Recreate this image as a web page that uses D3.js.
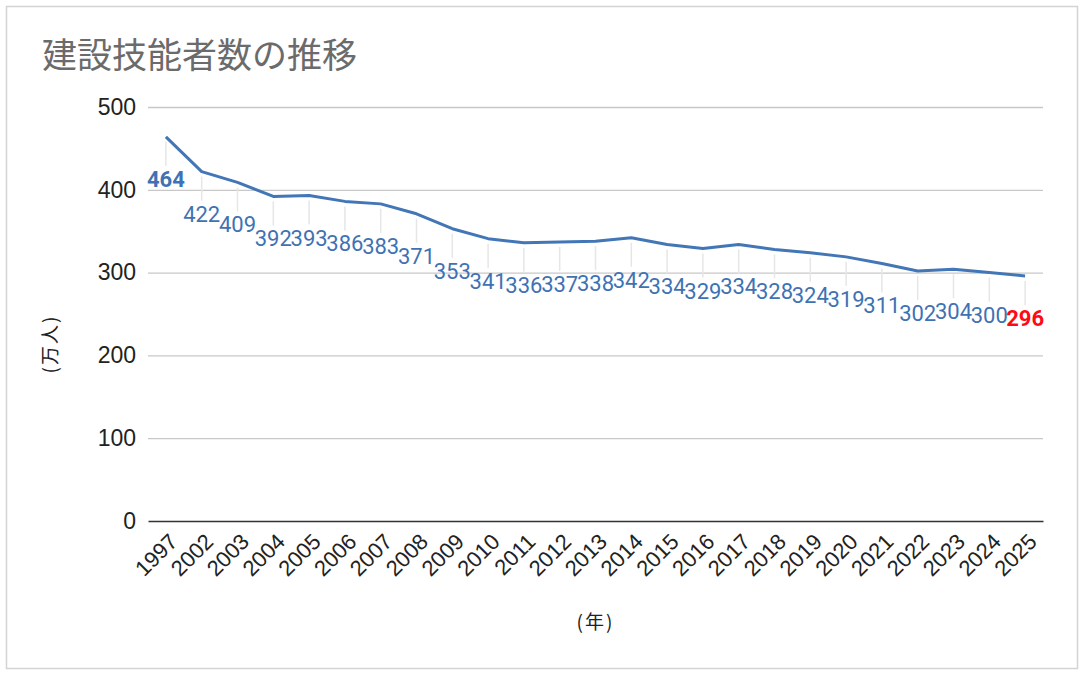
<!DOCTYPE html>
<html>
<head>
	<meta charset="UTF-8">
	<script src="https://d3js.org/d3.v7.min.js"></script>
	<title>建設技能者数の推移</title>
	<style>
		html, body { margin: 0; padding: 0; background: #fff; }
	</style>
</head>
<body>
	<svg></svg>
	<script type="text/javascript">
		const width = 1089;
		const height = 677;
		const margin = ({top: 107, right: 46, bottom: 156, left: 148});

		const years = ["1997", "2002", "2003", "2004", "2005", "2006", "2007", "2008", "2009", "2010",
			"2011", "2012", "2013", "2014", "2015", "2016", "2017", "2018", "2019", "2020",
			"2021", "2022", "2023", "2024", "2025"];
		const workers = [464, 422, 409, 392, 393, 386, 383, 371, 353, 341,
			336, 337, 338, 342, 334, 329, 334, 328, 324, 319,
			311, 302, 304, 300, 296];
		const yTicks = [0, 100, 200, 300, 400, 500];

		const data = years.map((y, i) => ({year: y, value: workers[i]}));

		const x = d3.scaleBand()
			.domain(years)
			.range([margin.left, width - margin.right]);

		const y = d3.scaleLinear()
			.domain([0, 500])
			.range([height - margin.bottom, margin.top]);

		const cx = d => x(d.year) + x.bandwidth() / 2;

		const svg = d3.select("svg")
			.attr("width", width)
			.attr("height", height)
			.attr("viewBox", [0, 0, width, height])
			.style("display", "block");

		// frame
		svg.append("rect")
			.attr("x", 6.5).attr("y", 6.5)
			.attr("width", 1071).attr("height", 662)
			.attr("fill", "#fff")
			.attr("stroke", "#d4d4d4")
			.attr("stroke-width", 1.5);

		svg.append("text")
			.attr("x", 42)
			.attr("y", 68)
			.attr("fill", "#6b6b6b")
			.attr("font-family", "'Noto Sans CJK JP', sans-serif")
			.attr("font-size", 35)
			.text("建設技能者数の推移");

		// y axis + grid
		svg.append("g")
			.attr("transform", `translate(${margin.left},0)`)
			.call(d3.axisLeft(y).tickValues(yTicks).tickSize(0).tickPadding(12))
			.call(g => g.select(".domain").remove())
			.call(g => g.selectAll(".tick line").clone()
				.attr("x2", width - margin.right - margin.left)
				.attr("stroke", d => d === 0 ? "none" : "#c8c8c8")
				.attr("stroke-width", 1.3))
			.call(g => g.selectAll(".tick text")
				.attr("fill", "#222")
				.attr("font-family", "'Liberation Sans', sans-serif")
				.attr("font-size", 23));

		svg.append("text")
			.attr("transform", `translate(57,344) rotate(-90)`)
			.attr("text-anchor", "middle")
			.attr("fill", "#222")
			.attr("font-family", "'Noto Sans CJK JP', sans-serif")
			.attr("font-size", 19)
			.attr("letter-spacing", 2)
			.text("(万人)");

		// x axis
		svg.append("g")
			.attr("transform", `translate(0,${height - margin.bottom})`)
			.call(d3.axisBottom(x).tickSize(0).tickPadding(0))
			.call(g => g.select(".domain")
				.attr("stroke", "#333")
				.attr("stroke-width", 1.6))
			.call(g => g.selectAll(".tick text")
				.attr("fill", "#222")
				.attr("font-family", "'Liberation Sans', sans-serif")
				.attr("font-size", 22)
				.attr("text-anchor", "end")
				.attr("dy", null)
				.attr("transform", "translate(13,22) rotate(-45)"));

		svg.append("text")
			.attr("x", (margin.left + width - margin.right) / 2)
			.attr("y", 629)
			.attr("text-anchor", "middle")
			.attr("fill", "#222")
			.attr("font-family", "'Noto Sans CJK JP', sans-serif")
			.attr("font-size", 19)
			.attr("letter-spacing", 2)
			.text("(年)");

		// leader lines
		svg.append("g")
			.attr("stroke", "#e6e6e6")
			.attr("stroke-width", 1.5)
			.selectAll("line")
			.data(data)
			.join("line")
			.attr("x1", cx)
			.attr("x2", cx)
			.attr("y1", d => y(d.value) + 5)
			.attr("y2", d => y(d.value) + 29);

		// line
		svg.append("path")
			.datum(data)
			.attr("fill", "none")
			.attr("stroke", "#4276b6")
			.attr("stroke-width", 3)
			.attr("stroke-linejoin", "round")
			.attr("d", d3.line().x(cx).y(d => y(d.value)));

		// data labels
		const last = data.length - 1;
		svg.append("g")
			.attr("font-family", "Roboto, sans-serif")
			.attr("font-size", 22)
			.attr("text-anchor", "middle")
			.selectAll("text")
			.data(data)
			.join("text")
			.attr("x", cx)
			.attr("y", d => y(d.value) + 50)
			.attr("fill", (d, i) => i === last ? "#ff0a14" : "#3f72b3")
			.attr("font-weight", (d, i) => (i === 0 || i === last) ? "bold" : null)
			.text(d => d.value);
	</script>
</body>
</html>
